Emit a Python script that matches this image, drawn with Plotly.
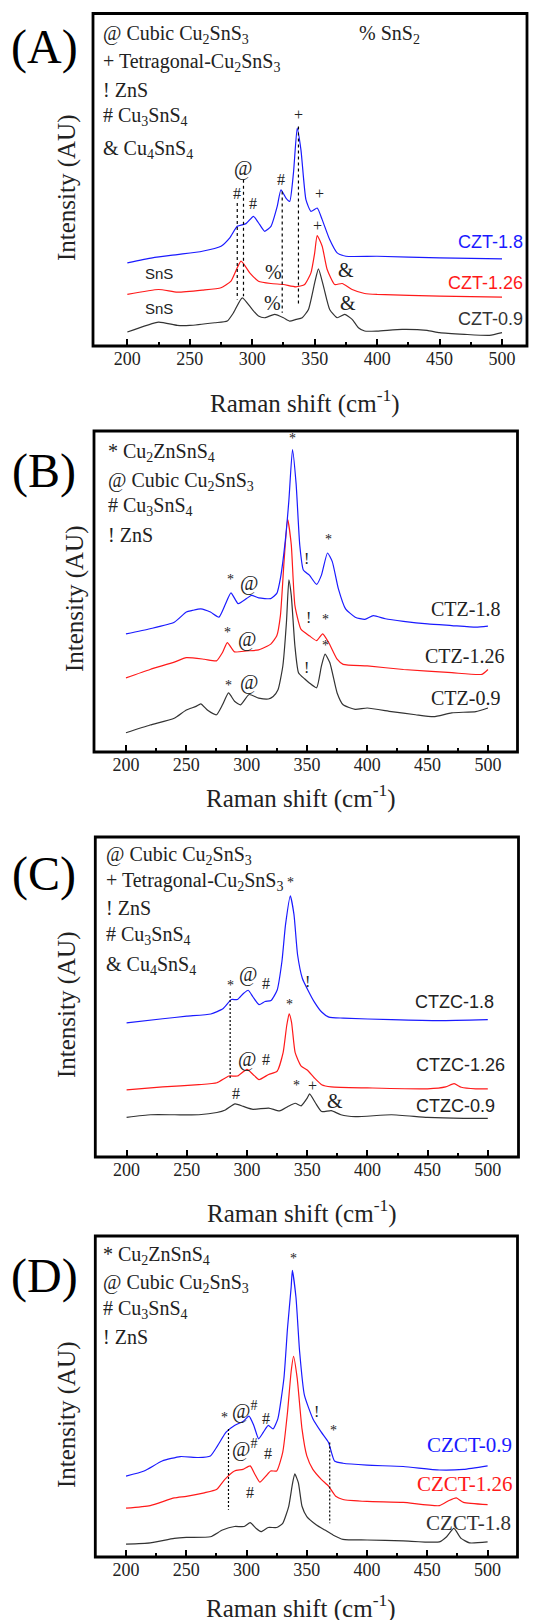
import plotly.graph_objects as go

W, H = 540, 1620

# ---------------- Panel A (CZT) ----------------
A_x_09 = [200, 225, 240, 250, 270, 280, 285, 292, 300, 305, 310, 318, 325, 330, 335, 340, 345, 350, 353, 357, 362, 368, 374, 380, 385, 390, 400, 420, 440, 450, 470, 490, 500]
A_y_09 = [4.2, 7.2, 6.2, 6.2, 7.0, 7.5, 10, 14.5, 11, 9, 8.5, 9.5, 8.5, 7.5, 8, 8.5, 11, 19, 23.2, 18, 11, 8.5, 9.5, 8, 5.5, 4.5, 4.5, 5, 4.7, 4, 3.5, 3.2, 4]
A_x_126 = [200, 225, 240, 260, 275, 283, 291, 298, 305, 315, 325, 335, 342, 347, 350, 352, 356, 360, 366, 372, 380, 390, 400, 450, 500]
A_y_126 = [15.5, 17, 16.2, 16.8, 17.5, 19.5, 25.5, 22, 19.5, 18.8, 18.5, 17.8, 18.5, 22, 28, 33.2, 30, 23, 18.5, 18.8, 17, 15.8, 15.5, 15, 14.7]
A_x_18 = [200, 220, 240, 260, 275, 282, 288, 295, 301, 306, 310, 315, 320, 323, 327, 330, 333, 336, 339, 343, 347, 352, 356, 362, 368, 375, 400, 450, 500]
A_y_18 = [25, 26.5, 27.5, 28.5, 30, 32.5, 36, 36.8, 39, 36.5, 34.5, 36, 42, 47, 44.5, 43.5, 52, 65.5, 59, 44, 40.5, 41.5, 38, 32, 28, 27, 27, 26.5, 26.2]
A_names = ["CZT-0.9", "CZT-1.26", "CZT-1.8"]
A_marks = [("#", 288, 46), ("@", 293, 53.5), ("#", 301, 43), ("#", 323, 50), ("+", 337, 69.5),
           ("+", 354, 46), ("+", 352, 36.2), ("%", 317, 22.2), ("%", 316, 13), ("&", 375, 23),
           ("&", 377, 12.8), ("SnS", 225, 21.8), ("SnS", 225, 11.2)]
A_dashes = [(288, 43, 14), (293, 50, 15), (324, 46.5, 10), (337, 66, 12.5)]
A_legend = ["@ Cubic Cu<sub>2</sub>SnS<sub>3</sub>", "+ Tetragonal-Cu<sub>2</sub>SnS<sub>3</sub>", "! ZnS",
            "# Cu<sub>3</sub>SnS<sub>4</sub>", "& Cu<sub>4</sub>SnS<sub>4</sub>"]
A_legend2 = "% SnS<sub>2</sub>"

# ---------------- Panel B (CTZ) ----------------
B_x_09 = [200, 220, 240, 250, 258, 262, 268, 275, 280, 285, 290, 295, 302, 310, 318, 322, 326, 330, 333, 335, 337, 340, 343, 348, 352, 358, 362, 365, 369, 375, 380, 390, 400, 420, 440, 455, 470, 490, 500]
B_y_09 = [6, 8.4, 10.5, 13.1, 14.2, 15, 12.9, 11.6, 14.7, 18.4, 15.8, 14.7, 17.9, 16.8, 16.5, 17.3, 19.4, 26.8, 40.4, 53.6, 48.8, 33.1, 24.7, 22.8, 21.5, 20, 26.8, 30.5, 27.8, 18.4, 14.7, 13.3, 13.7, 12.6, 11.6, 11, 12.2, 12.6, 13.7]
B_x_126 = [200, 220, 240, 250, 265, 275, 280, 284, 290, 300, 310, 320, 325, 328, 331, 334, 337, 340, 345, 352, 358, 363, 368, 375, 380, 400, 430, 470, 495, 500]
B_y_126 = [23.1, 25.7, 28, 29.4, 28.9, 28.4, 31, 34.1, 31.2, 31.5, 31.8, 33.6, 36.2, 42.5, 59.3, 72.5, 64.6, 45.7, 38.3, 36.2, 34.7, 36.8, 34.1, 28.9, 27.3, 26.8, 25.7, 24.7, 24.2, 25.7]
B_x_18 = [200, 220, 240, 250, 255, 262, 270, 277, 282, 287, 293, 300, 304, 310, 320, 325, 328, 332, 335, 338, 341, 344, 347, 352, 358, 362, 367, 371, 376, 382, 390, 398, 405, 415, 430, 450, 470, 490, 500]
B_y_18 = [36.8, 38.4, 40.4, 43.6, 44.1, 44.6, 43.6, 42, 45.7, 49.6, 46.2, 47.8, 48.8, 48, 47.8, 49.4, 54.1, 65.7, 78.3, 94.2, 83.6, 64.6, 56.7, 55.1, 52.2, 55.1, 62, 59.3, 50.9, 44.6, 42, 41.3, 42.5, 41.5, 40.7, 39.9, 39.4, 38.9, 39.2]
B_names = ["CTZ-0.9", "CTZ-1.26", "CTZ-1.8"]
B_marks = [("*", 338, 97.7), ("!", 350, 60.4), ("*", 368, 66.2), ("*", 287, 53.6), ("@", 302, 52.5),
           ("!", 351, 42), ("*", 365, 41.3), ("*", 284, 37.3), ("@", 300, 35),
           ("!", 350, 26.3), ("*", 365, 33.1), ("*", 285, 20.7), ("@", 302, 21.7)]
B_legend = ["* Cu<sub>2</sub>ZnSnS<sub>4</sub>", "@ Cubic Cu<sub>2</sub>SnS<sub>3</sub>",
            "# Cu<sub>3</sub>SnS<sub>4</sub>", "! ZnS"]

# ---------------- Panel C (CTZC) ----------------
C_x_09 = [200, 220, 240, 260, 275, 282, 290, 297, 305, 318, 327, 334, 340, 345, 350, 352, 357, 362, 370, 378, 390, 420, 450, 480, 500]
C_y_09 = [12.4, 13.2, 13.2, 13.2, 13.9, 14.7, 16.6, 15.8, 14.9, 15.3, 14.4, 15.8, 16.8, 16, 18.4, 19.7, 16.8, 14.2, 14.5, 13.2, 12.6, 13.2, 12.4, 12.1, 12.1]
C_x_126 = [200, 230, 260, 275, 285, 292, 300, 305, 310, 318, 325, 330, 333, 335, 337, 340, 345, 350, 356, 362, 370, 400, 450, 465, 472, 478, 490, 500]
C_y_126 = [21, 21.9, 22.6, 23.2, 25.3, 25.3, 27.4, 25.8, 24.2, 25.8, 26.8, 32.6, 41.1, 44.7, 42.1, 32.6, 28.4, 27.2, 24.7, 22.6, 21.9, 21.6, 21.3, 21.9, 22.9, 21.8, 21.3, 21.3]
C_x_18 = [200, 230, 250, 270, 280, 287, 292, 297, 301, 305, 310, 315, 320, 325, 329, 332, 336, 339, 342, 346, 350, 356, 362, 368, 380, 420, 460, 500]
C_y_18 = [41.9, 43.2, 44, 44.7, 46.3, 49.2, 49.2, 51.1, 52.1, 50, 47.6, 48.6, 48.9, 52.1, 61.1, 72.6, 81.6, 75.8, 63.2, 55.8, 52.6, 48.4, 45.3, 43.7, 43.4, 42.9, 42.6, 42.9]
C_names = ["CTZC-0.9", "CTZC-1.26", "CTZC-1.8"]
C_marks = [("*", 286, 53.7), ("@", 301, 57), ("#", 316, 54.2), ("*", 336, 85.8), ("!", 350, 54.7),
           ("*", 335, 47.6), ("@", 300, 30.5), ("#", 316, 30.5),
           ("#", 291, 20), ("*", 341, 22.3), ("+", 354, 22.3), ("&", 373, 17.4)]
C_dashes = [(286, 51.6, 24.2)]
C_legend = A_legend

# ---------------- Panel D (CZCT) ----------------
D_x_18 = [200, 220, 240, 250, 270, 280, 290, 298, 303, 308, 312, 318, 325, 330, 335, 338, 340, 343, 346, 350, 358, 365, 372, 380, 400, 430, 460, 466, 472, 478, 485, 500]
D_y_18 = [4, 4.4, 5.8, 6.1, 6.3, 8.4, 9.5, 9.5, 10.7, 8.9, 7.9, 9.2, 9.2, 10.5, 15.8, 22.6, 25.9, 23.1, 15.8, 12.6, 10, 8.4, 6.8, 5.5, 5.3, 5, 4.7, 6.3, 8.9, 5.8, 4.4, 4.7]
D_x_126 = [200, 220, 240, 250, 265, 275, 282, 290, 297, 303, 307, 311, 316, 320, 325, 330, 334, 337, 339, 342, 346, 350, 355, 362, 368, 374, 380, 400, 430, 460, 468, 474, 480, 500]
D_y_126 = [15.2, 16, 18.4, 18.9, 20, 21, 24.2, 26.8, 27.3, 28.4, 25.7, 23.3, 25.2, 26.8, 26.8, 32.6, 45.2, 57.8, 62.5, 55.7, 39.9, 31.5, 27.3, 24.2, 22.1, 18.9, 17.9, 17.3, 17, 16, 17.6, 18.4, 17, 16.3]
D_x_09 = [200, 215, 230, 245, 260, 270, 276, 283, 290, 297, 302, 306, 310, 314, 318, 322, 326, 331, 334, 337, 338, 341, 344, 348, 355, 362, 368, 373, 380, 400, 430, 460, 480, 500]
D_y_09 = [25.2, 26.8, 29.9, 31.3, 31, 31.5, 34.7, 38.9, 41, 42.2, 43.9, 41, 36.8, 38.9, 41, 39.9, 43.1, 55.7, 71.4, 84, 89.3, 80.9, 64.1, 50.4, 43.1, 38.9, 35.7, 29.9, 29.2, 28.6, 28.2, 27.1, 27.3, 28.4]
D_names = ["CZCT-1.8", "CZCT-1.26", "CZCT-0.9"]
D_marks = [("*", 339, 93), ("*", 282, 43.6), ("@<sup>#</sup>", 298, 45.7), ("#", 316, 43.3), ("!", 358, 45.2),
           ("*", 372, 39.4), ("@<sup>#</sup>", 298, 33.8), ("#", 318, 32.4), ("#", 303, 20)]
D_dashes = [(285, 39.9, 14.7), (369, 35.7, 10.5)]
D_legend = B_legend

TICKS = [200, 250, 300, 350, 400, 450, 500]
MINOR = [225, 275, 325, 375, 425, 475]

SERIF = "Liberation Serif"
SANS = "Liberation Sans"
COLORS = ["#333333", "#ff1a1a", "#1a1aff"]

panels = [
    dict(key="A", px=(93, 527, 13.5, 346), xr=(172.5, 520),
         curves=[(A_x_09, A_y_09), (A_x_126, A_y_126), (A_x_18, A_y_18)], names=A_names,
         label_pos=[(518, 8.2), (518, 19), (518, 31.2)], label_font=SANS, label_size=18, label_colored=True,
         marks=A_marks, dashes=A_dashes, dash="3px,3px", legend=A_legend, legend_y=[34, 63, 90, 117, 150], legend_x=101,
         title_y=401, ytitle=(67, 188), plabel=(44, 47)),
    dict(key="B", px=(94, 517.5, 431, 752), xr=(173.5, 524.5),
         curves=[(B_x_09, B_y_09), (B_x_126, B_y_126), (B_x_18, B_y_18)], names=B_names,
         label_pos=[(512, 16.8), (515, 29.9), (512, 44.4)], label_font=SERIF, label_size=20, label_colored=False,
         marks=B_marks, dashes=[], dash="dash", legend=B_legend, legend_y=[452, 481, 507, 535], legend_x=106,
         title_y=796, ytitle=(75, 599), plabel=(44, 471)),
    dict(key="C", px=(95.3, 518.5, 837, 1157), xr=(174, 525.5),
         curves=[(C_x_09, C_y_09), (C_x_126, C_y_126), (C_x_18, C_y_18)], names=C_names,
         label_pos=[(507.6, 16), (516, 28.6), (506.7, 48.4)], label_font=SANS, label_size=18, label_colored=False,
         marks=C_marks, dashes=C_dashes, dash="2px,2px", legend=C_legend, legend_y=[855, 882, 908, 935, 965], legend_x=104,
         title_y=1211, ytitle=(67, 1005), plabel=(44, 874)),
    dict(key="D", px=(95.3, 517.5, 1236, 1557), xr=(174.5, 524.8),
         curves=[(D_x_18, D_y_18), (D_x_126, D_y_126), (D_x_09, D_y_09)], names=D_names,
         label_pos=[(521, 10.7), (522, 22.6), (522, 34.9)], label_font=SERIF, label_size=21, label_colored=True,
         marks=D_marks, dashes=D_dashes, dash="2px,2px", legend=D_legend, legend_y=[1255, 1283, 1309, 1337], legend_x=101,
         title_y=1606, ytitle=(67, 1415), plabel=(44, 1276)),
]

fig = go.Figure()
layout = dict(width=W, height=H, margin=dict(l=0, r=0, t=0, b=0), paper_bgcolor="white",
              plot_bgcolor="white", showlegend=False)
annotations = []
shapes = []

for i, p in enumerate(panels):
    n = "" if i == 0 else str(i + 1)
    xa, ya = "x" + n, "y" + n
    l, r, t, b = p["px"]
    layout["xaxis" + n] = dict(domain=[l / W, r / W], range=list(p["xr"]), anchor=ya,
                               showgrid=False, zeroline=False, showline=False,
                               tickmode="array", tickvals=TICKS, ticks="inside", ticklen=7, tickwidth=2,
                               tickcolor="black",
                               minor=dict(tickmode="array", tickvals=MINOR, ticks="inside", ticklen=4, tickwidth=2,
                                          tickcolor="black"),
                               tickfont=dict(family=SERIF, size=18, color="#222"))
    layout["yaxis" + n] = dict(domain=[1 - b / H, 1 - t / H], range=[0, 100], anchor=xa, visible=False)
    shapes.append(dict(type="rect", xref=xa + " domain", yref=ya + " domain", x0=0, x1=1, y0=0, y1=1,
                       line=dict(color="black", width=2.8), layer="above"))
    for k, (cx, cy) in enumerate(p["curves"]):
        fig.add_trace(go.Scatter(x=cx, y=cy, mode="lines",
                                 line=dict(color=COLORS[k], width=1.2, shape="spline", smoothing=0.5),
                                 xaxis=xa, yaxis=ya, name=p["names"][k]))
        lx, ly = p["label_pos"][k]
        annotations.append(dict(x=lx, y=ly, xref=xa, yref=ya, text=p["names"][k], showarrow=False,
                                xanchor="right", yanchor="middle",
                                font=dict(family=p["label_font"], size=p["label_size"],
                                          color=COLORS[k] if p["label_colored"] else "#222")))
    for txt, mx, my in p["marks"]:
        if txt.startswith("@") or txt in ("&", "%"):
            size = 20
        elif txt == "SnS":
            size = 15
        elif txt == "*":
            size = 14
        else:
            size = 16
        annotations.append(dict(x=mx, y=my, xref=xa, yref=ya, text=txt, showarrow=False,
                                font=dict(family=SANS if txt == "SnS" else SERIF, size=size, color="#222")))
    for dx, y0, y1 in p["dashes"]:
        shapes.append(dict(type="line", xref=xa, yref=ya, x0=dx, x1=dx, y0=y0, y1=y1,
                           line=dict(color="black", width=1.2, dash=p["dash"])))
    for txt, yy in zip(p["legend"], p["legend_y"]):
        annotations.append(dict(x=p["legend_x"] / W, y=1 - yy / H, xref="paper", yref="paper", text=txt,
                                showarrow=False, xanchor="left", yanchor="middle",
                                font=dict(family=SERIF, size=20, color="#222")))
    if p["key"] == "A":
        annotations.append(dict(x=357 / W, y=1 - 34 / H, xref="paper", yref="paper", text=A_legend2,
                                showarrow=False, xanchor="left", yanchor="middle",
                                font=dict(family=SERIF, size=20, color="#222")))
    annotations.append(dict(x=((l + r) / 2 - 5) / W, y=1 - p["title_y"] / H, xref="paper", yref="paper",
                            text="Raman shift (cm<sup>-1</sup>)", showarrow=False, xanchor="center", yanchor="middle",
                            font=dict(family=SERIF, size=25, color="#222")))
    annotations.append(dict(x=p["ytitle"][0] / W, y=1 - p["ytitle"][1] / H, xref="paper", yref="paper",
                            text="Intensity (AU)", textangle=-90, showarrow=False, xanchor="center",
                            yanchor="middle", font=dict(family=SERIF, size=25, color="#222")))
    annotations.append(dict(x=p["plabel"][0] / W, y=1 - p["plabel"][1] / H, xref="paper", yref="paper",
                            text="(" + p["key"] + ")", showarrow=False, xanchor="center", yanchor="middle",
                            font=dict(family=SERIF, size=48, color="black")))

layout["annotations"] = annotations
layout["shapes"] = shapes
fig.update_layout(**layout)
fig.write_html("out.html")
